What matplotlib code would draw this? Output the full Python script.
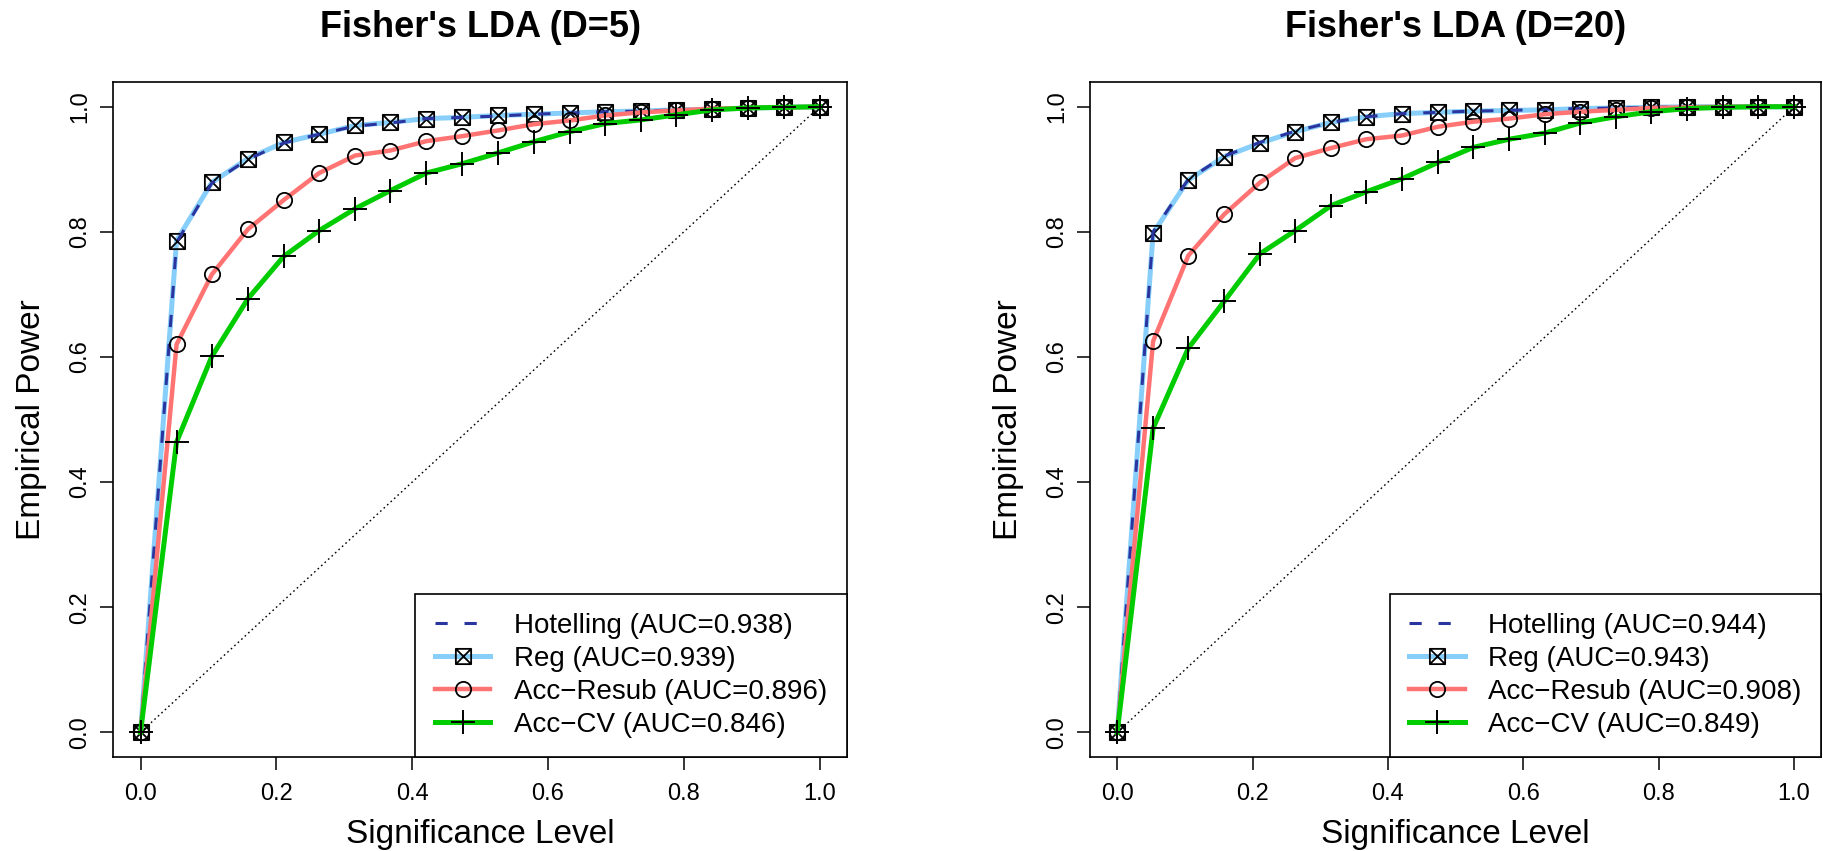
import matplotlib
matplotlib.use("Agg")
import matplotlib.pyplot as plt
from matplotlib.path import Path

plt.rcParams['font.family'] = ['Liberation Sans', 'DejaVu Sans']

# significance levels (20 points from 0 to 1)
alpha = [0.000, 0.053, 0.105, 0.158, 0.211, 0.263, 0.316, 0.368, 0.421, 0.474,
         0.526, 0.579, 0.632, 0.684, 0.737, 0.789, 0.842, 0.895, 0.947, 1.000]

# D=5 panel
hot5 = [0, 0.783, 0.878, 0.916, 0.942, 0.956, 0.969, 0.974, 0.981, 0.983,
        0.985, 0.988, 0.990, 0.992, 0.993, 0.995, 0.996, 0.998, 0.999, 1.0]
reg5 = [0, 0.786, 0.879, 0.917, 0.943, 0.956, 0.970, 0.975, 0.981, 0.983,
        0.986, 0.988, 0.990, 0.992, 0.993, 0.995, 0.996, 0.998, 0.999, 1.0]
resub5 = [0, 0.620, 0.732, 0.804, 0.851, 0.894, 0.922, 0.930, 0.945, 0.953,
          0.962, 0.972, 0.978, 0.986, 0.991, 0.994, 0.997, 0.998, 0.999, 1.0]
cv5 = [0, 0.464, 0.601, 0.693, 0.761, 0.802, 0.837, 0.866, 0.894, 0.909,
       0.926, 0.944, 0.960, 0.973, 0.979, 0.987, 0.995, 0.998, 0.999, 1.0]

# D=20 panel
hot20 = [0, 0.800, 0.884, 0.921, 0.943, 0.961, 0.975, 0.984, 0.989, 0.991,
         0.993, 0.994, 0.996, 0.997, 0.998, 0.999, 1.0, 1.0, 1.0, 1.0]
reg20 = [0, 0.798, 0.883, 0.920, 0.942, 0.960, 0.975, 0.984, 0.989, 0.991,
         0.993, 0.994, 0.995, 0.997, 0.998, 0.999, 1.0, 1.0, 1.0, 1.0]
resub20 = [0, 0.625, 0.762, 0.828, 0.879, 0.918, 0.934, 0.948, 0.954, 0.968,
           0.976, 0.981, 0.988, 0.992, 0.995, 0.998, 0.999, 1.0, 1.0, 1.0]
cv20 = [0, 0.486, 0.614, 0.689, 0.765, 0.802, 0.842, 0.864, 0.885, 0.911,
        0.935, 0.948, 0.958, 0.974, 0.984, 0.992, 0.997, 0.999, 1.0, 1.0]

titles = ["Fisher's LDA (D=5)", "Fisher's LDA (D=20)"]
auc5 = [0.938, 0.939, 0.896, 0.846]
auc20 = [0.944, 0.943, 0.908, 0.849]
ticks = [0.0, 0.2, 0.4, 0.6, 0.8, 1.0]
tick_labels = ["0.0", "0.2", "0.4", "0.6", "0.8", "1.0"]

# square with an X inside (R pch=7)
box_x = Path([(-1, -1), (1, -1), (1, 1), (-1, 1), (-1, -1),
              (-1, -1), (1, 1), (-1, 1), (1, -1)],
             [Path.MOVETO, Path.LINETO, Path.LINETO, Path.LINETO, Path.CLOSEPOLY,
              Path.MOVETO, Path.LINETO, Path.MOVETO, Path.LINETO])


def draw_panel(ax, title, hot, reg, resub, cv, aucs):
    ax.plot([0, 1], [0, 1], color='black', lw=1.0, linestyle=(0, (1.2, 2.2)))
    ax.plot(alpha, reg, color='#87CEFA', lw=3.6, marker=box_x, ms=11,
            mfc='none', mec='black', mew=1.3,
            label='Reg (AUC=%.3f)' % aucs[1])
    ax.plot(alpha, hot, color='#2b35a0', lw=2.2, linestyle=(0, (4, 5.5)),
            label='Hotelling (AUC=%.3f)' % aucs[0])
    ax.plot(alpha, resub, color='#FF7373', lw=3.2, marker='o', ms=11,
            mfc='none', mec='black', mew=1.3,
            label='Acc\u2212Resub (AUC=%.3f)' % aucs[2])
    ax.plot(alpha, cv, color='#00CC00', lw=3.6, marker='+', ms=17,
            mec='black', mew=1.4,
            label='Acc\u2212CV (AUC=%.3f)' % aucs[3])

    ax.set_xlim(-0.04, 1.04)
    ax.set_ylim(-0.04, 1.04)
    ax.set_xticks(ticks)
    ax.set_xticklabels(tick_labels)
    ax.set_yticks(ticks)
    ax.set_yticklabels(tick_labels, rotation=90, va='center')
    ax.tick_params(direction='out', length=9.4, width=1.1, labelsize=17,
                   colors='black')
    ax.tick_params(axis='x', pad=9)
    ax.tick_params(axis='y', pad=6.5)
    for sp in ax.spines.values():
        sp.set_linewidth(1.2)
        sp.set_color('black')

    ax.set_title(title, fontsize=26, fontweight='bold', pad=32)
    ax.set_xlabel('Significance Level', fontsize=24, labelpad=10)
    ax.set_ylabel('Empirical Power', fontsize=24, labelpad=16)

    # legend in the original order
    h, l = ax.get_legend_handles_labels()
    order = [1, 0, 2, 3]
    leg = ax.legend([h[i] for i in order], [l[i] for i in order],
                    loc='lower right', borderaxespad=0, fontsize=20,
                    frameon=True, fancybox=False, framealpha=1,
                    edgecolor='black', handlelength=2.0, handletextpad=0.85,
                    labelspacing=0.25, borderpad=0.7)
    leg.get_frame().set_linewidth(1.2)


fig = plt.figure(figsize=(18.23, 8.51), dpi=100)
ax1 = fig.add_axes([0.0622, 0.110, 0.4023, 0.794])
ax2 = fig.add_axes([0.598, 0.110, 0.401, 0.794])

draw_panel(ax1, titles[0], hot5, reg5, resub5, cv5, auc5)
draw_panel(ax2, titles[1], hot20, reg20, resub20, cv20, auc20)

fig.savefig('out.png', dpi=100, facecolor='white')
